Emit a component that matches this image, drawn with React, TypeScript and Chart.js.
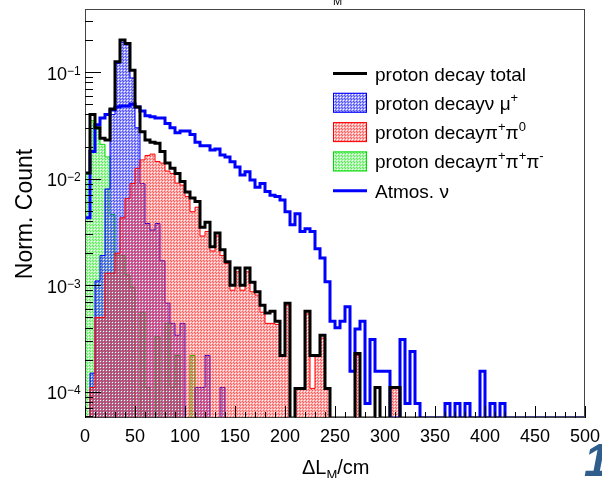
import React, { useEffect, useRef } from 'react';
import { Chart, registerables } from 'chart.js';

Chart.register(...registerables);

// ---- axis setup ----
const BIN_WIDTH = 5; // cm per bin, histogram over 0..500
const X_MIN = 0;
const X_MAX = 500;
const Y_MIN = 5.7e-5;
const Y_MAX = 0.39;
const X_TICKS = [0, 50, 100, 150, 200, 250, 300, 350, 400, 450, 500];
const Y_TICKS = [1e-4, 1e-3, 1e-2, 1e-1];
const Y_TICK_EXP = ['\u22124', '\u22123', '\u22122', '\u22121'];

// ---- series (bin contents, bins of 5 cm starting at 0) ----
const TOTAL = [
  0.0113, 0.040, 0.030, 0.024, 0.023, 0.045, 0.125, 0.200, 0.185, 0.104,
  0.047, 0.0275, 0.023, 0.022, 0.0215, 0.018, 0.014, 0.0125, 0.0112, 0.0094,
  0.0075, 0.0066, 0.0061, 0.0035, 0.0039, 0.0023, 0.0031, 0.00215, 0.00166, 0.0010,
  0.00145, 0.0010, 0.00145, 0.00107, 0.00087, 0.00065, 0.00055, 0.00057, 0.00046, 0.00022,
  0.00068, 0, 0.000108, 0.000108, 0.00057, 0.00022, 0.00022, 0.00034, 0.000108, 0,
  0, 0, 0, 0, 0.00023, 0, 0, 0, 0.00011, 0,
  0, 0.00011, 0.00011, 0,
];
const ATMOS = [
  0.0043, 0.018, 0.032, 0.037, 0.040, 0.044, 0.047, 0.048, 0.048, 0.050,
  0.047, 0.043, 0.039, 0.038, 0.037, 0.037, 0.033, 0.030, 0.027, 0.028,
  0.028, 0.026, 0.022, 0.0204, 0.0204, 0.0186, 0.0190, 0.0167, 0.0160, 0.0144,
  0.0129, 0.0108, 0.0116, 0.0097, 0.0083, 0.0090, 0.0076, 0.0070, 0.0068, 0.0063,
  0.0049, 0.0037, 0.0047, 0.0032, 0.0034, 0.0032, 0.0022, 0.0018, 0.00108, 0.00046,
  0.00040, 0.00046, 0.00063, 0.000156, 0.00039, 0.00046, 0.000078, 0.00031, 0.000156, 0.000156,
  0.000156, 0, 0, 0.00031, 0.000078, 0.00024, 0.000078, 0, 0, 0,
  0, 0, 0.000078, 0, 0.000078, 0, 0.000078, 0, 0, 0.000156,
  0, 0.000078, 0, 0.000078, 0,
];
const PIPI0 = [
  0, 0.00011, 0.0005, 0.0005, 0.0013, 0.0013, 0.0020, 0.0043, 0.0065, 0.009,
  0.0125, 0.015, 0.0165, 0.017, 0.0145, 0.014, 0.0118, 0.0112, 0.0091, 0.0087,
  0.0068, 0.0049, 0.0054, 0.0029, 0.0032, 0.0021, 0.0029, 0.0019, 0.0016, 0.0009,
  0.00134, 0.0009, 0.00134, 0.00087, 0.00081, 0.00056, 0.00044, 0.00044, 0.00043, 0.00022,
  0.00065, 0, 0.000108, 0.000108, 0.00054, 0.000108, 0.00022, 0.00032, 0.000108, 0,
  0, 0, 0, 0, 0.00022, 0, 0, 0, 0, 0,
  0, 0.000108, 0.000108, 0,
];
const NUMU = [
  0, 0.00015, 0.0011, 0.0019, 0.008, 0.040, 0.12, 0.19, 0.18, 0.088,
  0.030, 0.009, 0.0038, 0.0033, 0.0038, 0.0017, 0.00068, 0.00044, 0.00034, 0.00044,
  0, 0, 0.00011, 0.00011, 0.00022, 0, 0, 0.00011, 0,
];
const PIPIPI = [
  0.011, 0.035, 0.029, 0.021, 0.016, 0.0046, 0.0019, 0.0019, 0.00125, 0.00096,
  0, 0.00056, 0.00011, 0, 0.00033, 0, 0.00044, 0.00011, 0.00022, 0,
  0, 0.00022, 0,
];

const FONT = '"Liberation Sans", Arial, Helvetica, sans-serif';

function toPoints(vals: number[], leadingEdge: boolean) {
  const pts: { x: number; y: number }[] = [];
  if (leadingEdge) pts.push({ x: X_MIN, y: Y_MIN });
  vals.forEach((v, i) => pts.push({ x: i * BIN_WIDTH, y: v > 0 ? v : Y_MIN }));
  pts.push({ x: vals.length * BIN_WIDTH, y: Y_MIN });
  pts.push({ x: X_MAX, y: Y_MIN });
  return pts;
}

function makePattern(r: number, g: number, b: number, a: number) {
  const c = document.createElement('canvas');
  c.width = 3;
  c.height = 3;
  const ctx = c.getContext('2d')!;
  ctx.fillStyle = `rgba(${r},${g},${b},${a})`;
  ctx.fillRect(0, 0, 3, 3);
  ctx.clearRect(1, 1, 1, 1);
  ctx.fillStyle = `rgba(${r},${g},${b},${Math.min(1, a + 0.25)})`;
  ctx.fillRect(0, 0, 1, 1);
  ctx.fillRect(2, 2, 1, 1);
  return ctx.createPattern(c, 'repeat')!;
}

type Seg = { t: string; sup?: boolean };

function drawSegs(ctx: CanvasRenderingContext2D, segs: Seg[], x: number, y: number, size: number) {
  let cx = x;
  for (const s of segs) {
    if (s.sup) {
      ctx.font = `${Math.round(size * 0.68)}px ${FONT}`;
      ctx.fillText(s.t, cx, y - size * 0.42);
    } else {
      ctx.font = `${size}px ${FONT}`;
      ctx.fillText(s.t, cx, y);
    }
    cx += ctx.measureText(s.t).width;
  }
}

export default function App() {
  const ref = useRef<HTMLCanvasElement | null>(null);

  useEffect(() => {
    document.body.style.margin = '0';
    const canvas = ref.current!;
    const blueFill = makePattern(40, 40, 255, 0.45);
    const redFill = makePattern(255, 40, 40, 0.38);
    const greenFill = makePattern(40, 230, 40, 0.38);

    const legendRows = [
      { kind: 'line', color: '#000000', width: 3, segs: [{ t: 'proton decay total' }] },
      { kind: 'box', color: '#0000ff', fill: blueFill, segs: [{ t: 'proton decay\u03bd \u03bc' }, { t: '+', sup: true }] },
      { kind: 'box', color: '#ff0000', fill: redFill, segs: [{ t: 'proton decay\u03c0' }, { t: '+', sup: true }, { t: '\u03c0' }, { t: '0', sup: true }] },
      { kind: 'box', color: '#00dd00', fill: greenFill, segs: [{ t: 'proton decay\u03c0' }, { t: '+', sup: true }, { t: '\u03c0' }, { t: '+', sup: true }, { t: '\u03c0' }, { t: '-', sup: true }] },
      { kind: 'line', color: '#0000ff', width: 3, segs: [{ t: 'Atmos. \u03bd' }] },
    ];

    const deco = {
      id: 'deco',
      afterDraw(chart: any) {
        const ctx: CanvasRenderingContext2D = chart.ctx;
        const xs = chart.scales.x;
        const ys = chart.scales.y;
        const { left, right, top, bottom } = chart.chartArea;
        ctx.save();
        // frame
        ctx.strokeStyle = '#444';
        ctx.lineWidth = 1;
        ctx.strokeRect(left + 0.5, top + 0.5, right - left - 1, bottom - top - 1);
        // x ticks
        ctx.strokeStyle = '#000';
        for (let v = X_MIN; v <= X_MAX; v += 10) {
          const px = Math.round(xs.getPixelForValue(v)) + 0.5;
          const len = v % 50 === 0 ? 12 : 6;
          ctx.beginPath();
          ctx.moveTo(px, bottom);
          ctx.lineTo(px, bottom - len);
          ctx.stroke();
        }
        // y ticks
        for (let e = -5; e <= 0; e++) {
          for (let k = 1; k <= 9; k++) {
            const v = k * Math.pow(10, e);
            if (v < Y_MIN || v > Y_MAX) continue;
            const py = Math.round(ys.getPixelForValue(v)) + 0.5;
            const len = k === 1 ? 16 : 8;
            ctx.beginPath();
            ctx.moveTo(left, py);
            ctx.lineTo(left + len, py);
            ctx.stroke();
          }
        }
        // x labels
        ctx.fillStyle = '#000';
        ctx.textAlign = 'center';
        ctx.textBaseline = 'alphabetic';
        ctx.font = `18px ${FONT}`;
        X_TICKS.forEach((v) => {
          ctx.fillText(String(v), xs.getPixelForValue(v), 441.5);
        });
        // y labels
        Y_TICKS.forEach((v, i) => {
          const py = ys.getPixelForValue(v);
          ctx.textAlign = 'right';
          ctx.font = `18px ${FONT}`;
          ctx.fillText('10', 67, py + 7.5);
          ctx.textAlign = 'left';
          ctx.font = `12px ${FONT}`;
          ctx.fillText(Y_TICK_EXP[i], 67, py + 2.5);
        });
        // axis titles
        ctx.textAlign = 'left';
        drawSegs(ctx, [{ t: '\u0394L' }], 302, 474, 20);
        ctx.font = `20px ${FONT}`;
        const wDL = ctx.measureText('\u0394L').width;
        ctx.font = `13px ${FONT}`;
        ctx.fillText('M', 302 + wDL, 479);
        const wM = ctx.measureText('M').width;
        ctx.font = `20px ${FONT}`;
        ctx.fillText('/cm', 302 + wDL + wM, 474);

        ctx.save();
        ctx.translate(32, 214);
        ctx.rotate(-Math.PI / 2);
        ctx.textAlign = 'center';
        ctx.font = `23px ${FONT}`;
        ctx.fillText('Norm. Count', 0, 0);
        ctx.restore();

        // legend
        ctx.textAlign = 'left';
        legendRows.forEach((row: any, i) => {
          const cy = 73.5 + i * 29.3;
          if (row.kind === 'line') {
            ctx.strokeStyle = row.color;
            ctx.lineWidth = row.width;
            ctx.beginPath();
            ctx.moveTo(333, cy);
            ctx.lineTo(367, cy);
            ctx.stroke();
          } else {
            ctx.fillStyle = row.fill;
            ctx.fillRect(333, cy - 10, 34, 20);
            ctx.strokeStyle = row.color;
            ctx.lineWidth = 1;
            ctx.strokeRect(333.5, cy - 9.5, 33, 19);
          }
          ctx.fillStyle = '#000';
          drawSegs(ctx, row.segs, 375, cy + 7, 19);
        });

        // cropped remnants of the slide
        ctx.fillStyle = '#000';
        ctx.font = `11px ${FONT}`;
        ctx.fillText('M', 333, 5);
        ctx.fillStyle = '#2f5d8c';
        ctx.font = `italic bold 46px ${FONT}`;
        ctx.fillText('1', 584, 476);
        ctx.restore();
      },
    };

    const chart = new Chart(canvas, {
      type: 'line',
      data: {
        datasets: [
          {
            label: 'proton decay total',
            data: toPoints(TOTAL, false),
            borderColor: '#000000',
            borderWidth: 3,
            fill: false,
          },
          {
            label: 'Atmos. \u03bd',
            data: toPoints(ATMOS, false),
            borderColor: '#0000ff',
            borderWidth: 3,
            fill: false,
          },
          {
            label: 'proton decay \u03c0+\u03c00',
            data: toPoints(PIPI0, true),
            borderColor: '#ff0000',
            borderWidth: 1,
            backgroundColor: redFill,
            fill: 'start',
          },
          {
            label: 'proton decay \u03bd \u03bc+',
            data: toPoints(NUMU, true),
            borderColor: '#0000ff',
            borderWidth: 1,
            backgroundColor: blueFill,
            fill: 'start',
          },
          {
            label: 'proton decay \u03c0+\u03c0+\u03c0-',
            data: toPoints(PIPIPI, true),
            borderColor: '#00dd00',
            borderWidth: 1,
            backgroundColor: greenFill,
            fill: 'start',
          },
        ] as any,
      },
      options: {
        animation: false,
        responsive: false,
        devicePixelRatio: 1,
        layout: { padding: { left: 0, right: 17, top: 9, bottom: 0 } },
        elements: {
          point: { radius: 0, hoverRadius: 0 },
          line: { stepped: true, tension: 0 } as any,
        },
        plugins: { legend: { display: false }, tooltip: { enabled: false }, title: { display: false } },
        events: [],
        scales: {
          x: {
            type: 'linear',
            min: X_MIN,
            max: X_MAX,
            bounds: 'data',
            ticks: { display: false },
            grid: { display: false },
            border: { display: false },
            afterFit: (s: any) => {
              s.height = 60;
            },
          },
          y: {
            type: 'logarithmic',
            min: Y_MIN,
            max: Y_MAX,
            bounds: 'data',
            ticks: { display: false },
            grid: { display: false },
            border: { display: false },
            afterFit: (s: any) => {
              s.width = 85;
            },
          },
        } as any,
      },
      plugins: [deco],
    });
    return () => chart.destroy();
  }, []);

  return (
    <div style={{ position: 'fixed', left: 0, top: 0, width: 602, height: 478, background: '#fff' }}>
      <canvas ref={ref} width={602} height={478} style={{ display: 'block', width: 602, height: 478 }} />
    </div>
  );
}
